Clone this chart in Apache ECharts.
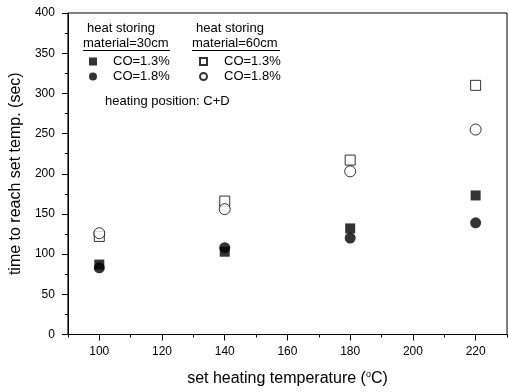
<!DOCTYPE html>
<html><head><meta charset="utf-8">
<script src="https://cdn.jsdelivr.net/npm/echarts@6/dist/echarts.min.js"></script>
<style>html,body{margin:0;padding:0;background:#fff}#c{width:509px;height:392px}</style>
</head><body><div id="c"></div>
<script>
const temps = [100, 140, 180, 220];
const mat30_co13 = [87, 103, 132, 173];
const mat30_co18 = [83, 108, 120, 139];
const mat60_co13 = [122, 166, 217, 310];
const mat60_co18 = [126, 156, 203, 255];
const xLabels = [100, 120, 140, 160, 180, 200, 220];
const xMinor = [90, 110, 130, 150, 170, 190, 210, 230];

const F = '"Liberation Sans", Arial, sans-serif';
const pts = a => temps.map((t, i) => [t, a[i]]);

const chart = echarts.init(document.getElementById('c'));
chart.setOption({
  animation: false,
  backgroundColor: '#fff',
  textStyle: {fontFamily: F, color: '#000'},
  grid: {left: 67, right: 2, top: 13, bottom: 56, show: true, borderColor: '#000', borderWidth: 1, backgroundColor: 'transparent'},
  xAxis: [{
    type: 'value', min: 90, max: 230, interval: 10,
    name: 'set heating temperature ({sup|o}C)', nameLocation: 'middle', nameGap: 36,
    nameTextStyle: {fontFamily: F, fontSize: 16, color: '#000', rich: {sup: {fontSize: 9, verticalAlign: 'top', padding: [0, 0, 8, 0], fontFamily: F, color: '#000'}}},
    axisLine: {lineStyle: {color: '#000', width: 1}},
    axisTick: {show: true, customValues: xLabels, length: 6, lineStyle: {color: '#000'}},
    axisLabel: {customValues: xLabels, fontSize: 12, color: '#000', margin: 11, fontFamily: F},
    splitLine: {show: false}
  }, {
    type: 'value', min: 90, max: 230, interval: 10, position: 'bottom',
    axisLine: {show: false},
    axisTick: {show: true, customValues: xMinor, length: 3, lineStyle: {color: '#000'}},
    axisLabel: {show: false},
    splitLine: {show: false}
  }],
  yAxis: {
    type: 'value', min: 0, max: 400, interval: 50,
    name: 'time to reach set temp. (sec)', nameLocation: 'middle', nameGap: 40,
    nameTextStyle: {fontFamily: F, fontSize: 16, color: '#000'},
    axisLine: {show: true, lineStyle: {color: '#000', width: 1}},
    axisTick: {show: true, length: 6, lineStyle: {color: '#000'}},
    minorTick: {show: true, splitNumber: 2, length: 3, lineStyle: {color: '#000'}},
    axisLabel: {fontSize: 12, color: '#000', margin: 13, fontFamily: F},
    splitLine: {show: false}
  },
  legend: [{
    orient: 'vertical', left: 89, top: 55, padding: 0, itemGap: 2, itemWidth: 8, itemHeight: 8,
    data: [{name: '30cm CO=1.3%', icon: 'rect'}, {name: '30cm CO=1.8%', icon: 'circle'}],
    formatter: n => n.replace(/^\d+cm /, ''),
    textStyle: {fontSize: 13, color: '#000', fontFamily: F, padding: [0, 0, 0, 11]}
  }, {
    orient: 'vertical', left: 199, top: 55, padding: 0, itemGap: 2, itemWidth: 7, itemHeight: 7,
    data: [{name: '60cm CO=1.3%', icon: 'rect'}, {name: '60cm CO=1.8%', icon: 'circle'}],
    formatter: n => n.replace(/^\d+cm /, ''),
    textStyle: {fontSize: 13, color: '#000', fontFamily: F, padding: [0, 0, 0, 12]}
  }],
  graphic: [
    {type: 'text', left: 87, top: 22, style: {text: 'heat storing', font: '13px ' + F, fill: '#000'}},
    {type: 'text', left: 83, top: 37, style: {text: 'material=30cm', font: '13px ' + F, fill: '#000'}},
    {type: 'line', shape: {x1: 83, y1: 50.5, x2: 170, y2: 50.5}, style: {stroke: '#000', lineWidth: 1}},
    {type: 'text', left: 196, top: 22, style: {text: 'heat storing', font: '13px ' + F, fill: '#000'}},
    {type: 'text', left: 192, top: 37, style: {text: 'material=60cm', font: '13px ' + F, fill: '#000'}},
    {type: 'line', shape: {x1: 192, y1: 50.5, x2: 280, y2: 50.5}, style: {stroke: '#000', lineWidth: 1}},
    {type: 'text', left: 105, top: 95, style: {text: 'heating position: C+D', font: '13px ' + F, fill: '#000'}}
  ],
  series: [
    {name: '30cm CO=1.3%', type: 'scatter', symbol: 'rect', symbolSize: 10, data: pts(mat30_co13), itemStyle: {color: '#000'}},
    {name: '30cm CO=1.8%', type: 'scatter', symbol: 'circle', symbolSize: 11, data: pts(mat30_co18), itemStyle: {color: '#000'}},
    {name: '60cm CO=1.3%', type: 'scatter', symbol: 'rect', symbolSize: 10, data: pts(mat60_co13), itemStyle: {color: '#fff', borderColor: '#000', borderWidth: 1}},
    {name: '60cm CO=1.8%', type: 'scatter', symbol: 'circle', symbolSize: 11, data: pts(mat60_co18), itemStyle: {color: '#fff', borderColor: '#000', borderWidth: 1}}
  ]
});
</script></body></html>
